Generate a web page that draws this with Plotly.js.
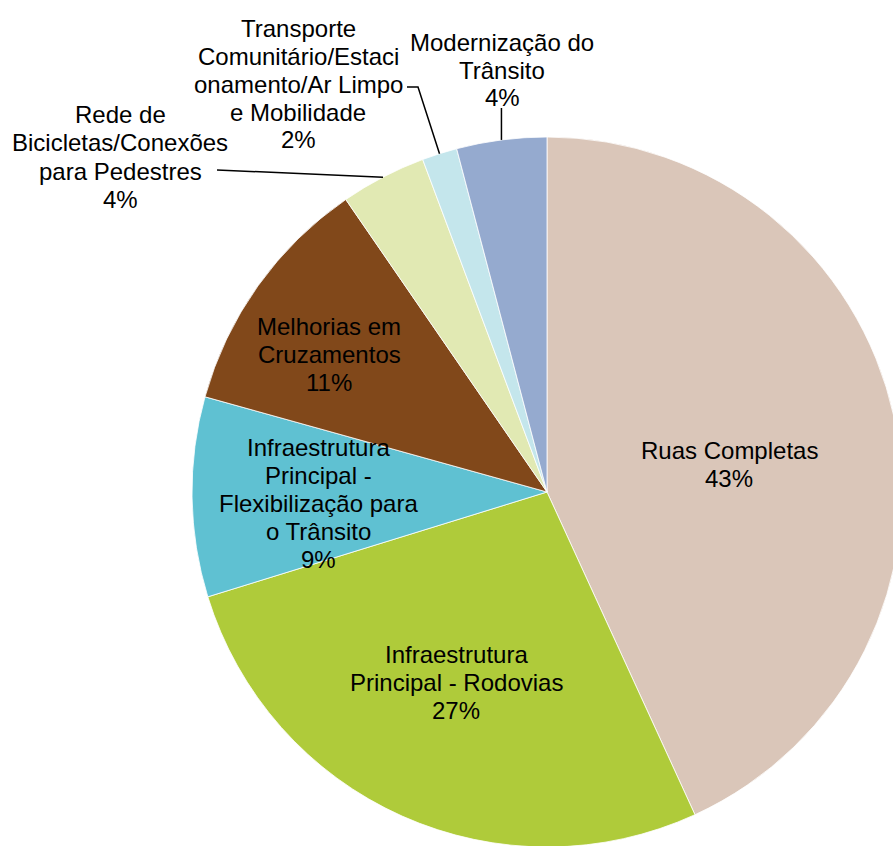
<!DOCTYPE html>
<html>
<head>
<meta charset="utf-8">
<script src="https://cdn.plot.ly/plotly-3.0.1.min.js"></script>
<style>
  html, body { margin: 0; padding: 0; overflow: hidden; background: #fff; }
  #chart { width: 910px; height: 850px; }
</style>
</head>
<body>
<div id="chart"></div>
<script>
// ---- data ----
const categories = [
  'Ruas Completas',
  'Infraestrutura Principal - Rodovias',
  'Infraestrutura Principal - Flexibilização para o Trânsito',
  'Melhorias em Cruzamentos',
  'Rede de Bicicletas/Conexões para Pedestres',
  'Transporte Comunitário/Estacionamento/Ar Limpo e Mobilidade',
  'Modernização do Trânsito'
];
const values = [43.2, 27.1, 9.1, 11.1, 3.9, 1.6, 4.1];
const labelLines = [
  ['Ruas Completas'],
  ['Infraestrutura', 'Principal - Rodovias'],
  ['Infraestrutura', 'Principal -', 'Flexibilização para', 'o Trânsito'],
  ['Melhorias em', 'Cruzamentos'],
  ['Rede de', 'Bicicletas/Conexões', 'para Pedestres'],
  ['Transporte', 'Comunitário/Estaci', 'onamento/Ar Limpo', 'e Mobilidade'],
  ['Modernização do', 'Trânsito']
];
const colors = ['#DAC6B9', '#AFCB3A', '#5FC1D2', '#81481A', '#E1E9B3', '#C4E6EC', '#95AACF'];

// ---- layout geometry ----
const W = 910, H = 850;
const CX = 547, CY = 492, R = 355;
const FONT = {family: 'Liberation Sans, Arial, sans-serif', size: 24, color: '#000'};
const LINE_H = 28;
// label block centres (pixels)
const labelPos = [[729, 464], [456, 682], [318, 503], [329, 354], [120, 157], [298, 84], [502, 70]];

const total = values.reduce((a, b) => a + b, 0);
const px = x => x / W;
const py = y => 1 - y / H;

// mid-angle edge point of each slice (clockwise from 12 o'clock)
let cum = 0;
const edge = values.map(v => {
  const a = (cum + v / 2) / total * 2 * Math.PI;
  cum += v;
  return [CX + R * Math.sin(a), CY - R * Math.cos(a)];
});

const annotations = [];
values.forEach((v, i) => {
  const lines = labelLines[i].concat([Math.round(v / total * 100) + '%']);
  const n = lines.length;
  lines.forEach((t, j) => {
    const y = labelPos[i][1] + (j - (n - 1) / 2) * LINE_H;
    annotations.push({
      x: px(labelPos[i][0]), y: py(y), xref: 'paper', yref: 'paper',
      text: t, showarrow: false, xanchor: 'center', yanchor: 'middle',
      font: FONT
    });
  });
});

// leader lines for outside labels
const leaders = [
  [[217, 170], edge[4]],
  [[407, 87], [418, 87], edge[5]],
  [[edge[6][0], 108], edge[6]]
];
const shapes = leaders.map(pts => ({
  type: 'path', xref: 'paper', yref: 'paper',
  path: pts.map((p, k) => (k ? 'L' : 'M') + px(p[0]) + ',' + py(p[1])).join(' '),
  line: {color: '#000', width: 1.5}
}));

const trace = {
  type: 'pie',
  labels: categories,
  values: values,
  sort: false,
  direction: 'clockwise',
  rotation: 0,
  textinfo: 'none',
  hoverinfo: 'label+percent',
  marker: {colors: colors, line: {color: '#ffffff', width: 0.8}},
  domain: {x: [(CX - R) / W, (CX + R) / W], y: [(H - CY - R) / H, (H - CY + R) / H]},
  showlegend: false
};

Plotly.newPlot('chart', [trace], {
  width: W, height: H,
  margin: {l: 0, r: 0, t: 0, b: 0, pad: 0},
  paper_bgcolor: '#fff',
  showlegend: false,
  annotations: annotations,
  shapes: shapes
}, {displayModeBar: false, staticPlot: true});
</script>
</body>
</html>
